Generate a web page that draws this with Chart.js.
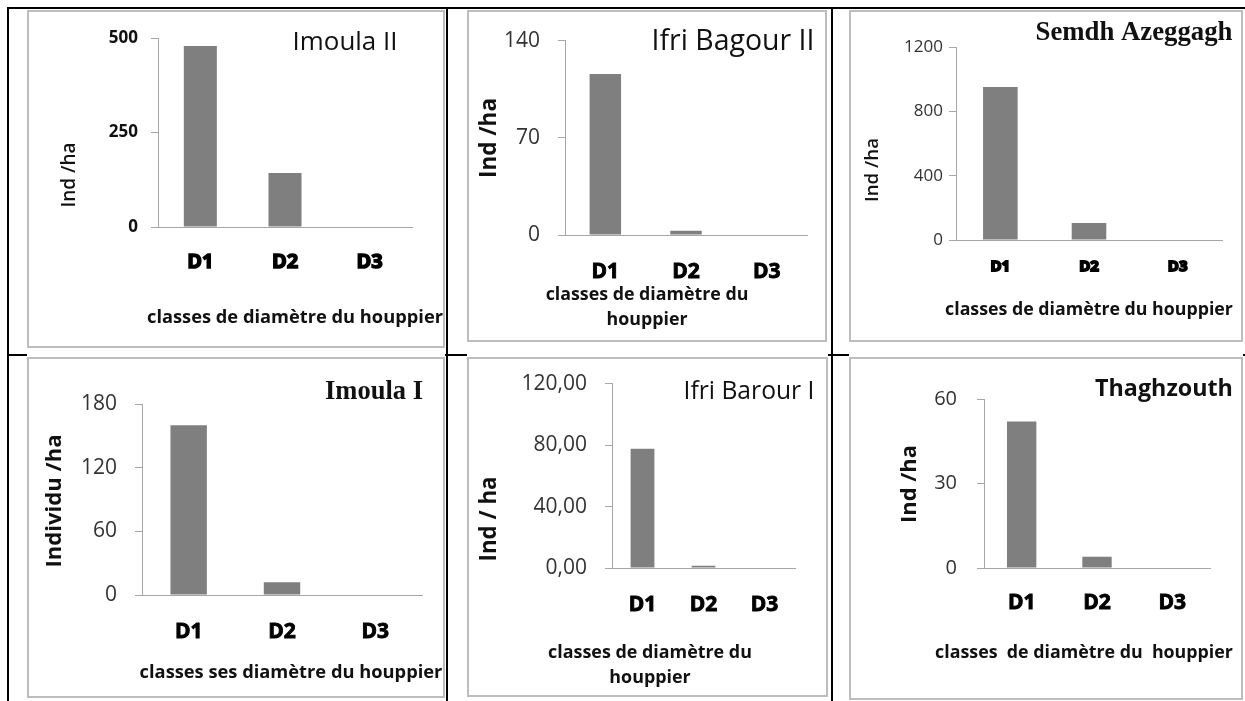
<!DOCTYPE html>
<html>
<head>
<meta charset="utf-8">
<script src="https://cdn.jsdelivr.net/npm/chart.js@4.4.1/dist/chart.umd.min.js"></script>
<style>
  html, body { margin: 0; padding: 0; background: #fff; }
  body { width: 1245px; height: 701px; position: relative; overflow: hidden; }
  .line { position: absolute; background: #000; }
  .panel { position: absolute; background: #fff; }
  .panel canvas { position: absolute; left: 0; top: 0; }
  .frame { position: absolute; border: 2px solid #bdbdbd; box-sizing: border-box; pointer-events: none; }
</style>
</head>
<body>
<div class="line" style="left:7px;top:7px;width:1238px;height:2px"></div>
<div class="line" style="left:7px;top:354px;width:1238px;height:2px"></div>
<div class="line" style="left:7px;top:7px;width:2px;height:694px"></div>
<div class="line" style="left:446px;top:7px;width:2px;height:694px"></div>
<div class="line" style="left:831px;top:7px;width:2px;height:694px"></div>

<script>
// data
const categories = ["D1", "D2", "D3"];
const siteNames = ["Imoula II", "Ifri Bagour II", "Semdh Azeggagh", "Imoula I", "Ifri Barour I", "Thaghzouth"];

const imoula2 = [479, 143, 0];
const ifriBagour2 = [116, 3, 0];
const semdhAzeggagh = [951, 106, 0];
const imoula1 = [160, 12, 0];
const ifriBarour1 = [77.6, 1.5, 0];
const thaghzouth = [52, 4, 0];

const ticksImoula2 = [0, 250, 500];
const ticksIfriBagour2 = [0, 70, 140];
const ticksSemdh = [0, 400, 800, 1200];
const ticksImoula1 = [0, 60, 120, 180];
const ticksIfriBarour1 = [0, 40, 80, 120];
const ticksThaghzouth = [0, 30, 60];

const yTitles = ["Ind /ha", "Ind /ha", "Ind /ha", "Individu /ha", "Ind / ha", "Ind /ha"];
const xTitles = [
  ["classes de diamètre du houppier"],
  ["classes de diamètre du", "houppier"],
  ["classes de diamètre du houppier"],
  ["classes ses diamètre du houppier"],
  ["classes de diamètre du", "houppier"],
  ["classes  de diamètre du  houppier"]
];

const seriesList = [imoula2, ifriBagour2, semdhAzeggagh, imoula1, ifriBarour1, thaghzouth];
const tickList = [ticksImoula2, ticksIfriBagour2, ticksSemdh, ticksImoula1, ticksIfriBarour1, ticksThaghzouth];

const SANS = "'Open Sans', sans-serif";
const SERIF = "'Liberation Serif', 'DejaVu Serif', serif";

// layout of each panel, page coordinates [left, top, right, bottom]
const layout = [
  { box: [27, 10, 445, 348], frame: [27, 10, 445, 348], area: [158, 38, 412, 227],
    yTick: { size: 17, weight: "bold", color: "#111" }, yPad: 13, xTick: { size: 20, stroke: 1.5 }, xPad: 23,
    title: { cx: 345, cy: 43, w: 105, family: SANS, weight: 400 },
    yT: { cx: 70, cy: 175, w: 65, weight: 600 }, xT: { cx: 295, cy: 318, w: 296 } },
  { box: [467, 10, 827, 342], frame: [467, 10, 827, 342], area: [565, 39, 807, 235],
    yTick: { size: 21, weight: "normal", color: "#333" }, yPad: 18, xTick: { size: 21, stroke: 0.9 }, xPad: 24,
    title: { cx: 733, cy: 42, w: 163, family: SANS, weight: 400 },
    yT: { cx: 490, cy: 138, w: 80, weight: 700 }, xT: { cx: 647, cy: 295, w: 203 } },
  { box: [849, 10, 1243, 342], frame: [849, 10, 1243, 342], area: [956, 47, 1222, 240],
    yTick: { size: 17, weight: "normal", color: "#333" }, yPad: 6, xTick: { size: 15, stroke: 1.8 }, xPad: 18,
    title: { cx: 1134, cy: 33, w: 197, family: SERIF, weight: 700 },
    yT: { cx: 873, cy: 170, w: 64, weight: 600 }, xT: { cx: 1089, cy: 310, w: 288 } },
  { box: [27, 353, 445, 698], frame: [27, 357, 445, 698], area: [142, 404, 422, 595],
    yTick: { size: 21, weight: "normal", color: "#333" }, yPad: 18, xTick: { size: 21, stroke: 0.9 }, xPad: 24,
    title: { cx: 374, cy: 392, w: 98, family: SERIF, weight: 700 },
    yT: { cx: 55, cy: 501, w: 133, weight: 700 }, xT: { cx: 291, cy: 673, w: 303 } },
  { box: [467, 353, 828, 697], frame: [467, 357, 828, 697], area: [612, 381, 795, 568],
    yTick: { size: 21, weight: "normal", color: "#333" }, yPad: 18, xTick: { size: 21, stroke: 0.9 }, xPad: 24,
    title: { cx: 749, cy: 392, w: 131, family: SANS, weight: 400 },
    yT: { cx: 490, cy: 519, w: 85, weight: 700 }, xT: { cx: 650, cy: 653, w: 204 } },
  { box: [849, 353, 1243, 705], frame: [849, 357, 1243, 700], area: [984, 399, 1210, 568],
    yTick: { size: 20, weight: "normal", color: "#333" }, yPad: 20, xTick: { size: 21, stroke: 0.9 }, xPad: 22,
    title: { cx: 1164, cy: 389, w: 138, family: SANS, weight: 700 },
    yT: { cx: 910, cy: 484, w: 78, weight: 700 }, xT: { cx: 1084, cy: 653, w: 298 } }
];

// fit a text to a target width, draw it centred on (cx, cy)
const fitSize = (ctx, text, family, weight, w) => {
  ctx.font = `${weight} 100px ${family}`;
  return 100 * w / ctx.measureText(text).width;
};

const panelText = {
  id: "panelText",
  afterDraw(chart, args, opts) {
    const ctx = chart.ctx;
    const [ox, oy] = opts.origin;
    ctx.save();
    ctx.textAlign = "center";
    ctx.textBaseline = "middle";
    opts.items.forEach((it) => {
      const lines = Array.isArray(it.text) ? it.text : [it.text];
      const size = fitSize(ctx, lines[0], it.family, it.weight, it.w);
      ctx.font = `${it.weight} ${size}px ${it.family}`;
      ctx.fillStyle = it.color;
      ctx.save();
      ctx.translate(it.cx - ox, it.cy - oy);
      if (it.rotate) ctx.rotate(-Math.PI / 2);
      lines.forEach((line, k) => ctx.fillText(line, 0, k * 25));
      ctx.restore();
    });
    ctx.restore();
  }
};

const makePanel = (i) => {
  const L = layout[i];
  const [bl, bt, br, bb] = L.box;
  const [al, at, ar, ab] = L.area;
  const w = br - bl, h = bb - bt;

  const div = document.createElement("div");
  div.className = "panel";
  div.style.cssText = `left:${bl}px;top:${bt}px;width:${w}px;height:${h}px`;
  const canvas = document.createElement("canvas");
  canvas.width = w;
  canvas.height = h;
  div.appendChild(canvas);
  document.body.appendChild(div);

  const fr = document.createElement("div");
  fr.className = "frame";
  const [fl, ft, frr, fb] = L.frame;
  fr.style.cssText = `left:${fl}px;top:${ft}px;width:${frr - fl}px;height:${fb - ft}px`;
  document.body.appendChild(fr);

  const ticks = tickList[i];
  const fmt = i === 4 ? (v) => v.toFixed(2).replace(".", ",") : (v) => String(v);

  new Chart(canvas.getContext("2d"), {
    type: "bar",
    data: {
      labels: categories,
      datasets: [{
        data: seriesList[i],
        backgroundColor: "#7f7f7f",
        borderWidth: 0,
        barPercentage: 0.39,
        categoryPercentage: 1
      }]
    },
    options: {
      responsive: false,
      animation: false,
      devicePixelRatio: 1,
      layout: { padding: { left: 0, top: at - bt, right: br - ar, bottom: 0 } },
      scales: {
        x: {
          grid: { display: false, drawTicks: false },
          border: { display: true, color: "#a6a6a6", width: 1, z: -1 },
          ticks: {
            color: "#000",
            padding: L.xPad,
            font: { family: SANS, size: L.xTick.size, weight: "bold" },
            textStrokeColor: "#000",
            textStrokeWidth: L.xTick.stroke,
            maxRotation: 0
          },
          afterFit: (s) => { s.height = bb - ab; }
        },
        y: {
          min: ticks[0],
          max: ticks[ticks.length - 1],
          grid: { display: true, drawOnChartArea: false, drawTicks: true, tickLength: 7, color: "#a6a6a6" },
          border: { display: true, color: "#a6a6a6", width: 1 },
          ticks: {
            color: L.yTick.color,
            padding: L.yPad,
            font: { family: SANS, size: L.yTick.size, weight: L.yTick.weight },
            callback: (v) => fmt(v)
          },
          afterBuildTicks: (s) => { s.ticks = ticks.map((v) => ({ value: v })); },
          afterFit: (s) => { s.width = al - bl; }
        }
      },
      plugins: {
        legend: { display: false },
        tooltip: { enabled: false },
        panelText: {
          origin: [bl, bt],
          items: [
            { text: siteNames[i], cx: L.title.cx, cy: L.title.cy, w: L.title.w,
              family: L.title.family, weight: L.title.weight, color: "#111" },
            { text: yTitles[i], cx: L.yT.cx, cy: L.yT.cy, w: L.yT.w,
              family: SANS, weight: L.yT.weight, color: "#111", rotate: true },
            { text: xTitles[i], cx: L.xT.cx, cy: L.xT.cy, w: L.xT.w,
              family: SANS, weight: 700, color: "#111" }
          ]
        }
      }
    },
    plugins: [panelText]
  });
};

for (let i = 0; i < layout.length; i++) makePanel(i);
</script>
</body>
</html>
